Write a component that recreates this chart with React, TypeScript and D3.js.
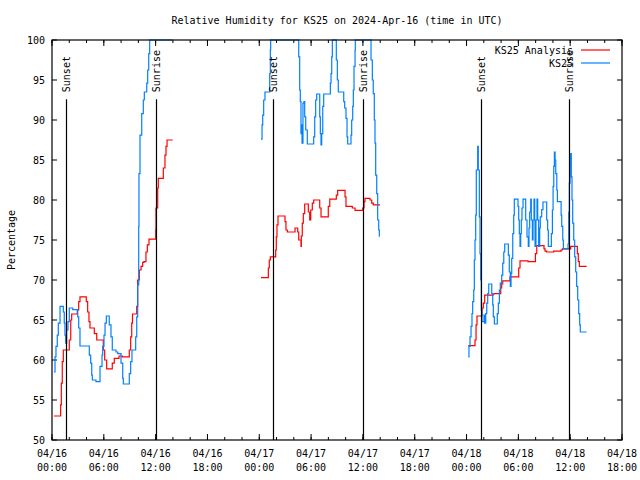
import React from "react";
import * as d3 from "d3";

const START = Date.UTC(2024, 3, 16, 0, 0);
const END = Date.UTC(2024, 3, 18, 18, 0);

const yTickValues = [50, 55, 60, 65, 70, 75, 80, 85, 90, 95, 100];
const sunsetHours = [1.66, 25.63, 49.64];
const sunriseHours = [12.08, 36.05, 59.9];
const legendLabels = ["KS25 Analysis", "KS25"];

// [hours since 2024-04-16 00:00 UTC, RH %]
const analysisDay1: [number, number][] = [
  [0.23, 53.0], [1.0, 54.4], [1.08, 57.1], [1.19, 59.8], [1.31, 61.25], [2.0, 62.5], [2.17, 65.0], [2.28, 65.75],
  [2.93, 66.25], [3.09, 67.3], [3.24, 67.9], [3.97, 67.3], [4.13, 66.0], [4.28, 64.8], [4.4, 64.0], [4.9, 63.3],
  [5.18, 62.5], [5.94, 61.25], [6.1, 60.0], [6.33, 58.9], [6.98, 59.6], [7.21, 60.2], [7.76, 60.5], [8.14, 60.4],
  [8.95, 61.25], [9.11, 62.9], [9.23, 64.6], [9.32, 65.75], [9.81, 66.7], [9.92, 70.0], [10.11, 71.25], [10.31, 71.7],
  [10.5, 72.2], [10.65, 72.3], [10.88, 73.5], [11.04, 74.4], [11.23, 75.1], [12.01, 76.3], [12.04, 79.0], [12.24, 81.5],
  [12.31, 82.7], [12.89, 84.0], [13.08, 85.6], [13.2, 86.7], [13.32, 87.5], [13.98, 87.5],
];
const analysisDay2: [number, number][] = [
  [24.2, 70.3], [25.05, 71.5], [25.16, 72.5], [25.28, 72.9], [25.9, 73.75], [25.97, 75.4], [26.05, 76.9], [26.17, 78.0],
  [26.98, 77.3], [27.09, 76.25], [27.25, 76.0], [28.14, 76.5], [28.45, 76.0], [28.57, 75.0], [28.83, 74.2], [28.87, 75.5],
  [28.98, 77.1], [29.1, 78.3], [29.26, 79.5], [29.68, 78.5], [29.84, 77.5], [29.96, 78.75], [30.14, 79.6], [30.3, 80.0],
  [31.0, 79.0], [31.15, 77.9], [31.99, 79.2], [32.16, 80.1], [32.92, 80.6], [33.08, 81.2], [33.93, 80.4], [34.04, 79.2],
  [34.77, 79.0], [35.09, 78.7], [35.98, 79.0], [36.13, 79.8], [36.24, 80.2], [36.82, 80.0], [37.02, 79.6], [37.2, 79.4],
  [37.98, 79.4],
];
const analysisDay3: [number, number][] = [
  [48.2, 61.8], [48.98, 62.5], [49.1, 64.4], [49.21, 65.5], [49.79, 66.5], [49.94, 67.1], [50.1, 68.1], [51.07, 68.25],
  [51.22, 68.3], [51.96, 69.0], [52.07, 69.5], [52.19, 69.9], [53.03, 70.4], [54.04, 71.5], [54.19, 72.4], [55.12, 72.3],
  [55.97, 73.3], [56.13, 74.3], [56.97, 73.9], [57.09, 73.6], [57.28, 73.5], [58.08, 73.6], [58.94, 73.75], [59.09, 73.9],
  [60.06, 74.2], [60.83, 73.3], [60.94, 72.3], [61.06, 71.7], [61.91, 71.7],
];

const obsDay1: [number, number][] = [
  [0.23, 58.5], [0.35, 60.4], [0.46, 61.7], [0.61, 63.1], [0.73, 64.6], [0.93, 66.7], [1.31, 66.0], [1.42, 64.6],
  [1.5, 63.1], [1.59, 62.1], [1.7, 63.75], [1.85, 64.8], [2.0, 66.5], [2.4, 66.3], [2.98, 65.4], [3.09, 64.0],
  [3.24, 61.75], [4.32, 60.6], [4.48, 59.6], [4.6, 58.1], [4.67, 57.5], [5.09, 57.3], [5.56, 59.2], [5.79, 60.6],
  [5.87, 61.7], [6.02, 63.1], [6.14, 64.6], [6.29, 65.5], [6.63, 64.4], [6.83, 62.9], [6.98, 61.25], [7.41, 61.0],
  [7.61, 60.8], [7.99, 59.6], [8.19, 57.7], [8.26, 57.0], [8.95, 58.3], [9.11, 59.8], [9.26, 61.25], [9.69, 62.9],
  [9.81, 65.4], [9.92, 69.4], [10.04, 76.7], [10.07, 83.3], [10.19, 88.1], [10.39, 90.8], [10.57, 92.5], [10.69, 93.5],
  [10.97, 94.6], [11.08, 96.25], [11.2, 98.3], [11.31, 100], [13.98, 100],
];
const obsDay2: [number, number][] = [
  [24.2, 87.6], [24.32, 89.4], [24.4, 90.6], [24.51, 92.5], [24.66, 93.5], [25.21, 95.8], [25.28, 98.75], [25.32, 100],
  [28.57, 97.9], [28.68, 93.75], [28.75, 92.3], [28.83, 88.3], [28.91, 89.4], [28.95, 87.1], [29.06, 92.1], [29.18, 92.3],
  [29.26, 90.4], [29.38, 88.75], [29.56, 87.0], [30.3, 87.9], [30.42, 90.4], [30.53, 92.5], [30.65, 93.25], [31.0, 90.4],
  [31.07, 88.3], [31.15, 86.9], [31.23, 88.3], [31.35, 91.7], [31.46, 93.25], [32.23, 94.6], [32.31, 95.8], [32.39, 97.9],
  [32.46, 100], [32.92, 97.5], [33.04, 95], [33.15, 93.5], [33.78, 92.3], [33.89, 91.5], [34.04, 90.2], [34.16, 87.9],
  [34.24, 87.0], [34.62, 88.1], [34.7, 90], [34.82, 91.7], [34.89, 93.75], [34.97, 96.7], [35.09, 98.75], [35.12, 100],
  [36.94, 97.5], [37.09, 95], [37.2, 93.3], [37.32, 90], [37.4, 87.1], [37.48, 83.1], [37.6, 80.8], [37.71, 77.5],
  [37.83, 76.25], [37.9, 75.4],
];
const obsDay3: [number, number][] = [
  [48.2, 60.4], [48.28, 61.7], [48.4, 62.9], [48.52, 64.2], [48.63, 65.8], [48.71, 67.3], [48.83, 68.75], [48.9, 72.5],
  [48.98, 75.0], [49.06, 78.1], [49.13, 83.75], [49.29, 86.7], [49.36, 83.75], [49.48, 77.9], [49.56, 73.3], [49.64, 70],
  [49.71, 66.25], [49.79, 64.8], [50.02, 65.6], [50.1, 64.6], [50.22, 65.8], [50.34, 67.1], [50.45, 68.3], [50.57, 69.5],
  [50.92, 68.3], [51.03, 66.9], [51.1, 65.4], [51.22, 64.5], [51.56, 65.8], [51.68, 67.1], [51.8, 68.75], [51.91, 69.6],
  [52.07, 70.6], [52.19, 72.1], [52.31, 73.5], [52.42, 74.5], [52.84, 73.1], [52.95, 71.0], [53.07, 69.2], [53.15, 70.8],
  [53.23, 72.7], [53.35, 75.8], [53.46, 78.1], [53.53, 80.1], [53.96, 79.2], [54.04, 77.5], [54.11, 75.8], [54.19, 74.2],
  [54.27, 75.8], [54.34, 77.5], [54.42, 79.0], [54.54, 80.1], [54.85, 77.5], [55.0, 75.4], [55.15, 74.2], [55.23, 76.5],
  [55.31, 78.5], [55.43, 80.1], [55.5, 77.5], [55.62, 75.0], [55.7, 77.5], [55.81, 80.1], [55.89, 77.5], [55.93, 74.2],
  [56.04, 77.5], [56.16, 80.1], [56.24, 77.5], [56.35, 74.2], [56.47, 76.5], [56.54, 77.9], [56.7, 78.8], [56.85, 79.75],
  [57.28, 77.5], [57.39, 76.25], [57.47, 74.2], [57.82, 75.8], [57.94, 78.75], [58.02, 81.7], [58.1, 84.2], [58.17, 86.0],
  [58.25, 85.0], [58.33, 83.3], [58.45, 81.25], [58.52, 79.8], [58.95, 78.1], [59.02, 76.7], [59.14, 75.0], [59.21, 73.9],
  [59.75, 74.5], [59.83, 78.5], [59.9, 82.1], [59.98, 84.4], [60.06, 85.8], [60.13, 82.9], [60.21, 80], [60.29, 77.1],
  [60.41, 75.0], [60.52, 72.9], [60.64, 71.0], [60.75, 69.2], [60.87, 67.5], [60.99, 65.8], [61.1, 64.4], [61.17, 63.5],
  [61.91, 63.5],
];

const analysisSegments = [analysisDay1, analysisDay2, analysisDay3];
const obsSegments = [obsDay1, obsDay2, obsDay3];

const FONT = "'DejaVu Sans Mono', 'Liberation Mono', monospace";
const RED = "#ff0000";
const BLUE = "#0080ff";

const L = 52, R = 622, T = 40, B = 440;

const toDate = (h: number) => new Date(START + h * 3600 * 1000);

export default function App() {
  const x = d3.scaleUtc().domain([new Date(START), new Date(END)]).range([L, R]);
  const y = d3.scaleLinear().domain([50, 100]).range([B, T]);
  const majorX = d3.utcHour.every(6)!.range(new Date(START), new Date(END + 1));
  const minorX = d3.utcHour.every(2)!.range(new Date(START), new Date(END + 1));
  const fmtDay = d3.utcFormat("%m/%d");
  const fmtTime = d3.utcFormat("%H:%M");

  const line = d3
    .line<[number, number]>()
    .x((d) => x(toDate(d[0])))
    .y((d) => y(d[1]))
    .curve(d3.curveStepAfter);

  const sunLines = [
    ...sunsetHours.map((h) => ({ h, label: "Sunset" })),
    ...sunriseHours.map((h) => ({ h, label: "Sunrise" })),
  ];
  const sunTop = y(92.6);

  return (
    <svg
      width={640}
      height={480}
      style={{ position: "absolute", left: 0, top: 0, background: "#fff" }}
      fontFamily={FONT}
      fontSize={10}
    >
      <rect x={0} y={0} width={640} height={480} fill="#fff" />
      <text x={337} y={23.5} textAnchor="middle" fill="#000">
        Relative Humidity for KS25 on 2024-Apr-16 (time in UTC)
      </text>

      {/* y ticks and labels */}
      {yTickValues.map((v) => (
        <g key={"y" + v}>
          <line x1={L} x2={L + 5} y1={y(v)} y2={y(v)} stroke="#000" />
          <line x1={R} x2={R - 5} y1={y(v)} y2={y(v)} stroke="#000" />
          <text x={45} y={y(v)} dy="0.35em" textAnchor="end" fill="#000">
            {v}
          </text>
        </g>
      ))}

      {/* x minor ticks */}
      {minorX.map((d, i) => (
        <g key={"mx" + i}>
          <line x1={x(d)} x2={x(d)} y1={B} y2={B - 3} stroke="#000" />
          <line x1={x(d)} x2={x(d)} y1={T} y2={T + 3} stroke="#000" />
        </g>
      ))}
      {majorX.map((d, i) => (
        <g key={"x" + i}>
          <line x1={x(d)} x2={x(d)} y1={B} y2={B - 6} stroke="#000" />
          <line x1={x(d)} x2={x(d)} y1={T} y2={T + 6} stroke="#000" />
          <text x={x(d)} y={457} textAnchor="middle" fill="#000">
            {fmtDay(d)}
          </text>
          <text x={x(d)} y={471} textAnchor="middle" fill="#000">
            {fmtTime(d)}
          </text>
        </g>
      ))}

      <text transform="translate(15,240) rotate(-90)" textAnchor="middle" fill="#000">
        Percentage
      </text>

      <defs>
        <clipPath id="plotclip">
          <rect x={L} y={T - 1} width={R - L} height={B - T + 2} />
        </clipPath>
      </defs>

      <g clipPath="url(#plotclip)" fill="none" strokeWidth={1.2}>
        {analysisSegments.map((seg, i) => (
          <path key={"a" + i} d={line(seg) || ""} stroke={RED} />
        ))}
        {obsSegments.map((seg, i) => (
          <path key={"o" + i} d={line(seg) || ""} stroke={BLUE} />
        ))}
      </g>

      {sunLines.map((s, i) => {
        const xx = Math.round(x(toDate(s.h))) + 0.5;
        return (
          <g key={"s" + i}>
            <line x1={xx} x2={xx} y1={sunTop} y2={B} stroke="#000" strokeWidth={1.2} />
            <text
              transform={`translate(${xx},${sunTop - 7}) rotate(-90)`}
              dy="0.35em"
              textAnchor="start"
              fill="#000"
            >
              {s.label}
            </text>
          </g>
        );
      })}

      {/* legend */}
      {legendLabels.map((lab, i) => (
        <g key={"lg" + i}>
          <text x={573} y={50 + i * 13} dy="0.35em" textAnchor="end" fill="#000">
            {lab}
          </text>
          <line x1={581} x2={610} y1={50 + i * 13} y2={50 + i * 13} stroke={i === 0 ? RED : BLUE} strokeWidth={1.2} />
        </g>
      ))}

      <rect x={L} y={T} width={R - L} height={B - T} fill="none" stroke="#000" strokeWidth={1.2} />
    </svg>
  );
}
